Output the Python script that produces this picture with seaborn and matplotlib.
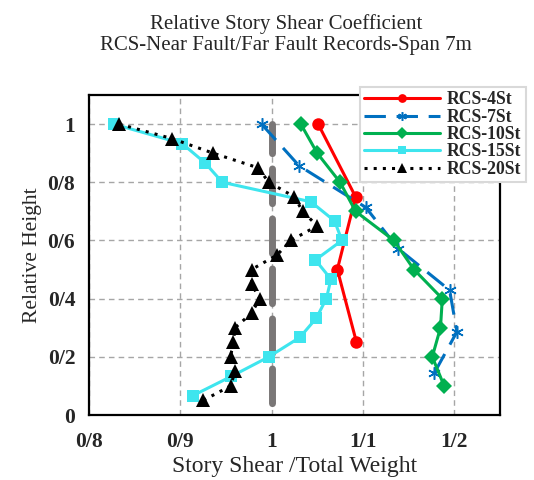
import numpy as np
import pandas as pd
import seaborn as sns
import matplotlib.pyplot as plt

# story shear / total weight vs relative height
h4 = [1.0, 0.75, 0.5, 0.25]
v4 = [1.051, 1.092, 1.072, 1.093]

h7 = [1.0, 0.857, 0.714, 0.571, 0.429, 0.286, 0.143]
v7 = [0.989, 1.030, 1.103, 1.139, 1.195, 1.203, 1.178]

h10 = [1.0, 0.9, 0.8, 0.7, 0.6, 0.5, 0.4, 0.3, 0.2, 0.1]
v10 = [1.032, 1.050, 1.075, 1.092, 1.134, 1.156, 1.187, 1.185, 1.176, 1.189]

h15 = [1.0, 0.933, 0.867, 0.8, 0.733, 0.667, 0.6, 0.533, 0.467, 0.4, 0.333, 0.267, 0.2, 0.133, 0.067]
v15 = [0.827, 0.902, 0.927, 0.946, 1.043, 1.069, 1.077, 1.048, 1.065, 1.060, 1.049, 1.031, 0.997, 0.956, 0.914]

h20 = [1.0, 0.95, 0.9, 0.85, 0.8, 0.75, 0.7, 0.65, 0.6, 0.55, 0.5, 0.45, 0.4, 0.35, 0.3, 0.25, 0.2, 0.15, 0.1, 0.05]
v20 = [0.833, 0.891, 0.936, 0.985, 0.997, 1.025, 1.034, 1.050, 1.021, 1.006,
       0.978, 0.978, 0.987, 0.978, 0.960, 0.958, 0.955, 0.960, 0.955, 0.925]

ref_x = [1.0, 1.0]
ref_y = [1.0, 0.0]

xticks = [0.8, 0.9, 1.0, 1.1, 1.2]
xtick_labels = ['0/8', '0/9', '1', '1/1', '1/2']
yticks = [0, 0.2, 0.4, 0.6, 0.8, 1.0]
ytick_labels = ['0', '0/2', '0/4', '0/6', '0/8', '1']

sns.set_style('white')
plt.rcParams['font.family'] = ['Liberation Serif', 'DejaVu Serif']

fig = plt.figure(figsize=(5.34, 4.8), dpi=100)
ax = fig.add_axes([0.1667, 0.1354, 0.7693, 0.6667])

ax.grid(True, color='#a6a6a6', linestyle=(0, (4, 3)), linewidth=1.0)
ax.set_axisbelow(True)

# reference line at 1
sns.lineplot(x=ref_x, y=ref_y, sort=False, estimator=None, ax=ax, color='#7a7777',
             linewidth=5, linestyle=(0.8, (5, 2.2)), dash_capstyle='round')

sns.lineplot(x=v4, y=h4, sort=False, estimator=None, ax=ax, color='#ff0000',
             linewidth=2.2, marker='o', markersize=9, markeredgewidth=0,
             label='RCS-4St')
sns.lineplot(x=v7, y=h7, sort=False, estimator=None, ax=ax, color='#0070c0',
             linewidth=2.2, linestyle=(0, (7, 3.5)), marker=(6, 2, 0), markersize=9,
             markeredgewidth=1.1, markeredgecolor='#0070c0', label='RCS-7St')
sns.lineplot(x=v10, y=h10, sort=False, estimator=None, ax=ax, color='#00b050',
             linewidth=2.2, marker='D', markersize=8.5, markeredgewidth=0,
             label='RCS-10St')
sns.lineplot(x=v15, y=h15, sort=False, estimator=None, ax=ax, color='#3ee5ee',
             linewidth=2.2, marker='s', markersize=8.5, markeredgewidth=0,
             label='RCS-15St')
sns.lineplot(x=v20, y=h20, sort=False, estimator=None, ax=ax, color='black',
             linewidth=2.2, linestyle=(0, (1, 2)), marker='^', markersize=10.5,
             markeredgewidth=0, label='RCS-20St')

ax.set_xlim(0.8, 1.25)
ax.set_ylim(0, 1.1)
ax.set_xticks(xticks)
ax.set_xticklabels(xtick_labels, fontsize=15.5, fontweight='bold')
ax.set_yticks(yticks)
ax.set_yticklabels(ytick_labels, fontsize=15.5, fontweight='bold')
ax.tick_params(direction='out', length=4, width=1.5, color='black')
ax.tick_params(axis='x', pad=8)
ax.tick_params(axis='y', pad=6)
for s in ax.spines.values():
    s.set_color('black')
    s.set_linewidth(1.6)

ax.set_xlabel('Story Shear /Total Weight', fontsize=17)
ax.xaxis.set_label_coords(0.5, -0.128)
ax.set_ylabel('Relative Height', fontsize=15.5, labelpad=4)
fig.text(0.535, 0.97, 'Relative Story Shear Coefficient\nRCS-Near Fault/Far Fault Records-Span 7m',
         fontsize=15, ha='center', va='top', linespacing=1.1)

leg = ax.legend(loc='upper left', bbox_to_anchor=(0.659, 1.025),
                prop={'weight': 'bold', 'size': 12.7}, frameon=True, fancybox=False,
                handlelength=4.3, labelspacing=0.02, borderpad=0.25, handletextpad=0.4,
                markerscale=0.7, borderaxespad=0)
leg.get_frame().set_edgecolor('#d9d9d9')
leg.get_frame().set_linewidth(1.5)
leg.get_frame().set_alpha(1)

fig.savefig('out.png', dpi=100)
